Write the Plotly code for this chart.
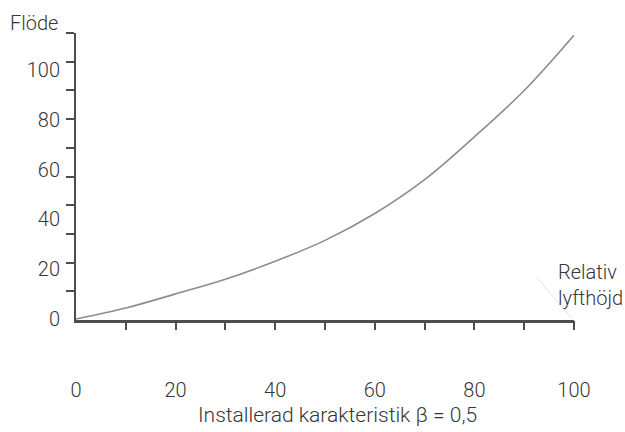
import plotly.graph_objects as go

# Data
lift = [0, 10, 20, 30, 40, 50, 60, 70, 80, 90, 100]
flow = [0, 4.4, 10.1, 16.0, 23.2, 31.6, 42.4, 56.0, 73.2, 91.8, 114]

x_tick_marks = [10, 20, 30, 40, 50, 60, 70, 80, 90, 100]
x_label_vals = [0, 20, 40, 60, 80, 100]
y_label_vals = [0, 20, 40, 60, 80, 100]
y_tick_marks = [1, 2, 3, 4, 5, 6, 7, 8, 9, 10]

FONT = "Roboto"
TXT = "#363636"
AX = "#4d4d4d"
FS = 20

fig = go.Figure()
fig.add_trace(go.Scatter(
    x=lift, y=flow, mode="lines",
    line=dict(color="#8c8c8c", width=1.6, shape="spline", smoothing=1.0),
    hoverinfo="skip", showlegend=False,
))

fig.update_layout(
    width=625, height=432,
    margin=dict(l=76, r=51, t=33, b=112),
    paper_bgcolor="white", plot_bgcolor="white",
    font=dict(family=FONT, size=FS, color=TXT, weight=300),
    showlegend=False,
    xaxis=dict(
        range=[0, 100], showgrid=False, zeroline=False,
        showline=True, linecolor=AX, linewidth=2.5,
        tickvals=x_label_vals, ticks="", ticklabelstandoff=50,
        tickfont=dict(size=FS, color=TXT, family=FONT, weight=300),
    ),
    xaxis2=dict(
        range=[0, 100], overlaying="x", anchor="y", side="bottom",
        showgrid=False, zeroline=False, showline=False,
        tickvals=x_tick_marks, ticks="outside", ticklen=9, tickwidth=2,
        tickcolor=AX, showticklabels=False,
    ),
    yaxis=dict(
        range=[-0.4, 114.9], showgrid=False, zeroline=False,
        showline=False, tickvals=y_label_vals, ticks="",
        ticklabelstandoff=15,
        tickfont=dict(size=FS, color=TXT, family=FONT, weight=300),
    ),
    yaxis2=dict(
        range=[0, 10], overlaying="y", anchor="x", side="left",
        showgrid=False, zeroline=False,
        showline=True, linecolor=AX, linewidth=2.5,
        tickvals=y_tick_marks, ticks="outside", ticklen=8, tickwidth=2,
        tickcolor=AX, showticklabels=False,
    ),
)

# invisible helper so overlay axes exist
fig.add_trace(go.Scatter(x=[None], y=[None], xaxis="x2", yaxis="y2",
                         mode="lines", hoverinfo="skip", showlegend=False))

fig.add_annotation(
    text="Flöde", xref="paper", yref="paper",
    x=-0.085, y=1.035, xanchor="center", yanchor="middle",
    showarrow=False, font=dict(size=FS, color=TXT, family=FONT, weight=300),
)
fig.add_annotation(
    text="Installerad karakteristik β = 0,5", xref="x", yref="paper",
    x=52.5, y=-0.33, xanchor="center", yanchor="middle",
    showarrow=False, font=dict(size=21, color=TXT, family=FONT, weight=300),
)
fig.add_annotation(
    text="Relativ<br>lyfthöjd", xref="x", yref="y",
    x=96.4, y=13.8, xanchor="left", yanchor="middle", align="left",
    showarrow=False, font=dict(size=FS, color=TXT, family=FONT, weight=300),
)
fig.add_shape(type="line", xref="x", yref="y", x0=92.6, y0=16.5, x1=99.6, y1=0,
              line=dict(color="#e2e2e2", width=1))

fig.write_html(
    "out.html",
    config={"displayModeBar": False, "staticPlot": True},
    post_script="document.body.style.margin='0px';document.body.style.overflow='hidden';",
)
